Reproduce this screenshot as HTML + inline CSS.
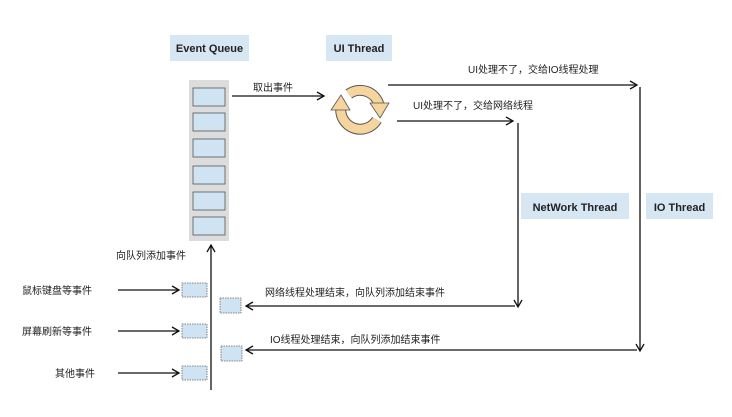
<!DOCTYPE html>
<html><head><meta charset="utf-8"><style>
body{margin:0;background:#fff;}
svg text{font-family:"Liberation Sans","Noto Sans CJK SC",sans-serif;}
</style></head><body>
<svg width="732" height="412" viewBox="0 0 732 412" xmlns="http://www.w3.org/2000/svg">
<defs>
<marker id="a" markerWidth="10" markerHeight="10" refX="8" refY="5" orient="auto" markerUnits="userSpaceOnUse">
<path d="M1,1 L8,5 L1,9" fill="none" stroke="#111" stroke-width="1.3"/></marker>
</defs>
<g font-weight="bold" font-size="11" fill="#222">
<rect x="170" y="35" width="79" height="26" fill="#d6e6f2"/>
<text x="209.5" y="52" text-anchor="middle">Event Queue</text>
<rect x="326" y="35" width="66" height="26" fill="#d6e6f2"/>
<text x="359" y="52" text-anchor="middle">UI Thread</text>
<rect x="521" y="193" width="108" height="26" fill="#d6e6f2"/>
<text x="575" y="211" text-anchor="middle">NetWork Thread</text>
<rect x="646" y="193" width="67" height="26" fill="#d6e6f2"/>
<text x="679.5" y="211" text-anchor="middle">IO Thread</text>
</g>
<rect x="189" y="80" width="40" height="161" fill="#dcdcdc"/>
<g fill="#cfe3f3" stroke="#555" stroke-width="0.8">
<rect x="193" y="88" width="32" height="18"/><rect x="193" y="113" width="32" height="18"/>
<rect x="193" y="139" width="32" height="18"/><rect x="193" y="166" width="32" height="18"/>
<rect x="193" y="192" width="32" height="18"/><rect x="193" y="217" width="32" height="18"/>
</g>
<g stroke="#111" stroke-width="1.3" fill="none" marker-end="url(#a)">
<line x1="232" y1="96" x2="324" y2="96"/>
<line x1="388" y1="85" x2="637" y2="85"/>
<line x1="397" y1="121" x2="513" y2="121"/>
<line x1="518" y1="123" x2="518" y2="307"/>
<line x1="640" y1="87" x2="640" y2="351"/>
<line x1="515" y1="306" x2="246" y2="306"/>
<line x1="637" y1="350" x2="246" y2="350"/>
<line x1="211" y1="390" x2="211" y2="245"/>
<line x1="118" y1="290" x2="179" y2="290"/>
<line x1="118" y1="331" x2="179" y2="331"/>
<line x1="118" y1="373" x2="179" y2="373"/>
</g>
<g fill="none">
<path d="M348.8,94 A19.5,19.5 0 0 1 378.8,104" stroke="#555" stroke-width="11"/>
<path d="M348.8,94 A19.5,19.5 0 0 1 378.8,104" stroke="#f5d49e" stroke-width="9"/>
<path d="M376.9,119.8 A19.5,19.5 0 0 1 340.8,108" stroke="#555" stroke-width="11"/>
<path d="M376.9,119.8 A19.5,19.5 0 0 1 340.8,108" stroke="#f5d49e" stroke-width="9"/>
</g>
<g fill="#f5d49e" stroke="#555" stroke-width="0.8">
<path d="M370,103 L389,103 L380,118 Z"/>
<path d="M331,110 L350,110 L341,95 Z"/>
</g>
<g fill="#cfe3f3" stroke="#666" stroke-width="0.8" stroke-dasharray="1.5,1">
<rect x="182" y="283" width="25" height="14"/><rect x="182" y="324" width="25" height="14"/>
<rect x="182" y="366" width="25" height="14"/><rect x="220" y="298" width="21" height="15"/>
<rect x="221" y="346" width="21" height="15"/>
</g>
<g font-size="10" fill="#222">
<text x="253" y="91">取出事件</text>
<text x="468" y="73">UI处理不了，交给IO线程处理</text>
<text x="413" y="109">UI处理不了，交给网络线程</text>
<text x="265" y="296">网络线程处理结束，向队列添加结束事件</text>
<text x="270" y="343">IO线程处理结束，向队列添加结束事件</text>
<text x="116" y="259">向队列添加事件</text>
<text x="22" y="294">鼠标键盘等事件</text>
<text x="22" y="335">屏幕刷新等事件</text>
<text x="55" y="377">其他事件</text>
</g>
</svg>
</body></html>
